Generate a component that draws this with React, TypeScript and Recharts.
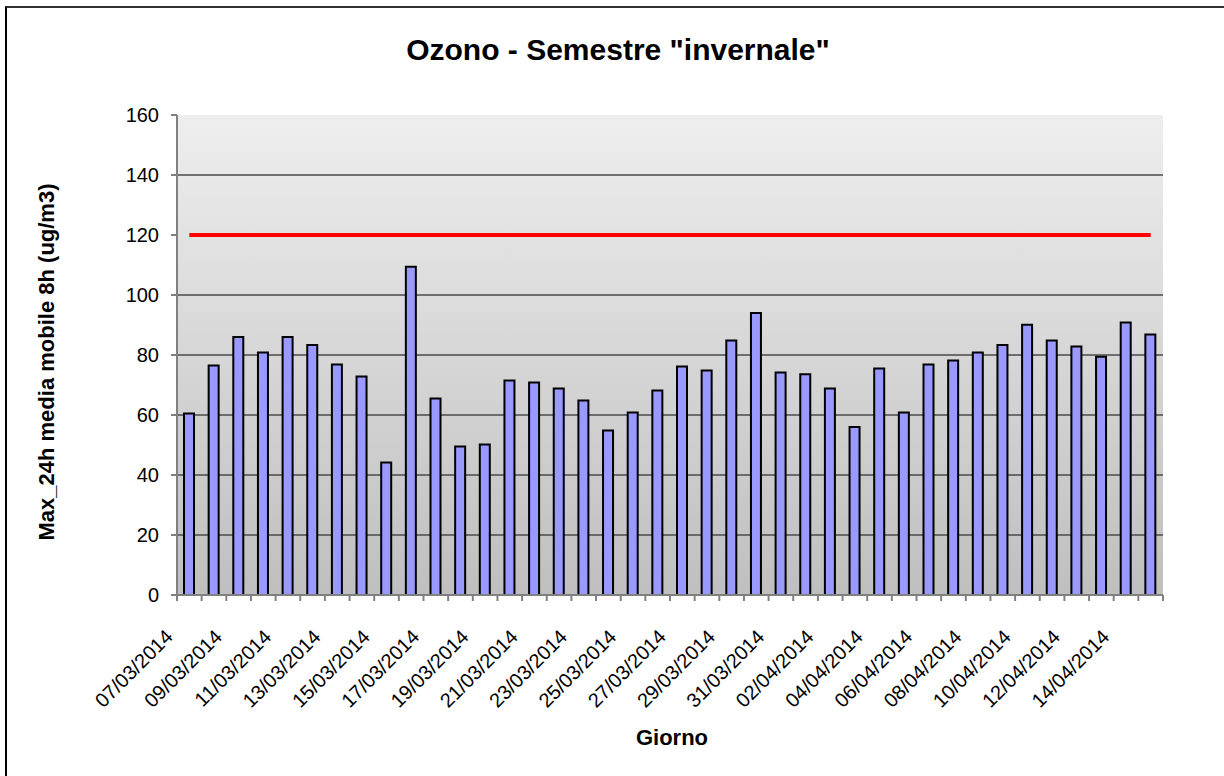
import { ComposedChart, Bar, Line, XAxis, YAxis, CartesianGrid } from "recharts";

const giorni = [
  "07/03/2014", "08/03/2014", "09/03/2014", "10/03/2014", "11/03/2014", "12/03/2014", "13/03/2014", "14/03/2014",
  "15/03/2014", "16/03/2014", "17/03/2014", "18/03/2014", "19/03/2014", "20/03/2014", "21/03/2014", "22/03/2014",
  "23/03/2014", "24/03/2014", "25/03/2014", "26/03/2014", "27/03/2014", "28/03/2014", "29/03/2014", "30/03/2014",
  "31/03/2014", "01/04/2014", "02/04/2014", "03/04/2014", "04/04/2014", "05/04/2014", "06/04/2014", "07/04/2014",
  "08/04/2014", "09/04/2014", "10/04/2014", "11/04/2014", "12/04/2014", "13/04/2014", "14/04/2014", "15/04/2014",
];

const maxMedia8h = [
  60.5, 76.5, 86, 80.8, 86, 83.3, 76.8, 72.8, 44.2, 109.4,
  65.5, 49.5, 50.2, 71.5, 70.8, 68.8, 64.8, 54.8, 60.8, 68.2,
  76.2, 74.8, 84.8, 94, 74.2, 73.6, 68.8, 56, 75.5, 60.8,
  76.8, 78.2, 80.8, 83.3, 90.1, 84.8, 82.8, 79.4, 90.8, 86.8,
];

// soglia 120 ug/m3
const soglia = giorni.map(() => 120);

const yTicks = [0, 20, 40, 60, 80, 100, 120, 140, 160];

const data = giorni.map((g, i) => ({ giorno: g, valore: maxMedia8h[i], soglia: soglia[i] }));

const PLOT_W = 986;
const HALF = PLOT_W / giorni.length / 2;
const font = '"Liberation Sans", Arial, sans-serif';

function GiornoTick(props: any) {
  const { x, y, payload } = props;
  const idx = payload.index ?? props.index;
  const half = payload.offset || HALF;
  const left = x - half;
  return (
    <g>
      <line x1={left} y1={y} x2={left} y2={y + 6} stroke="#808080" strokeWidth={2} />
      {idx === giorni.length - 1 && (
        <line x1={x + half} y1={y} x2={x + half} y2={y + 6} stroke="#808080" strokeWidth={2} />
      )}
      {idx % 2 === 0 && (
        <text
          x={left - 3}
          y={y + 43}
          textAnchor="end"
          fontSize={20}
          fontFamily={font}
          fill="#000"
          transform={`rotate(-45, ${left - 3}, ${y + 43})`}
        >
          {payload.value}
        </text>
      )}
    </g>
  );
}

export default function App() {
  return (
    <div style={{ position: "absolute", left: 0, top: 0, width: 1224, height: 776, overflow: "hidden", background: "#fff", fontFamily: font }}>
      <div style={{ position: "absolute", left: 5, top: 6, width: 1400, height: 1000, borderTop: "2px solid #333", borderLeft: "2px solid #000" }} />
      <div style={{ position: "absolute", left: 0, width: 1236, top: 33, textAlign: "center", fontSize: 30, fontWeight: "bold" }}>
        Ozono - Semestre "invernale"
      </div>
      <div
        style={{
          position: "absolute", left: 47, top: 362, whiteSpace: "nowrap", fontSize: 22, fontWeight: "bold",
          transform: "translate(-50%, -50%) rotate(-90deg)",
        }}
      >
        Max_24h media mobile 8h (ug/m3)
      </div>
      <div style={{ position: "absolute", left: 672, top: 738, transform: "translate(-50%, -50%)", fontSize: 22, fontWeight: "bold" }}>
        Giorno
      </div>
      <div style={{ position: "absolute", left: 0, top: 0 }}>
        <ComposedChart width={1224} height={776} data={data} margin={{ top: 115, right: 61, bottom: 51, left: 77 }} barCategoryGap="0%">
          <defs>
            <linearGradient id="sfondo" x1="0" y1="0" x2="0" y2="1">
              <stop offset="0%" stopColor="#eeeeee" />
              <stop offset="100%" stopColor="#bfbfbf" />
            </linearGradient>
          </defs>
          <CartesianGrid fill="url(#sfondo)" vertical={false} horizontalValues={[20, 40, 60, 80, 100, 140]} stroke="#4a4a4a" strokeWidth={1.5} />
          <XAxis
            dataKey="giorno"
            interval={0}
            height={130}
            tickSize={0}
            tickMargin={0}
            tickLine={false}
            axisLine={{ stroke: "#808080", strokeWidth: 2 }}
            tick={<GiornoTick />}
          />
          <YAxis
            width={100}
            domain={[0, 160]}
            ticks={yTicks}
            interval={0}
            tickSize={6}
            tickMargin={12}
            tickLine={{ stroke: "#808080", strokeWidth: 2 }}
            axisLine={{ stroke: "#808080", strokeWidth: 2 }}
            tick={{ fill: "#000", fontSize: 20, fontFamily: font }}
          />
          <Bar dataKey="valore" fill="#9999ff" stroke="#000" strokeWidth={2} barSize={10} isAnimationActive={false} />
          <Line dataKey="soglia" type="linear" stroke="#ff0000" strokeWidth={4} dot={false} activeDot={false} isAnimationActive={false} />
        </ComposedChart>
      </div>
    </div>
  );
}
